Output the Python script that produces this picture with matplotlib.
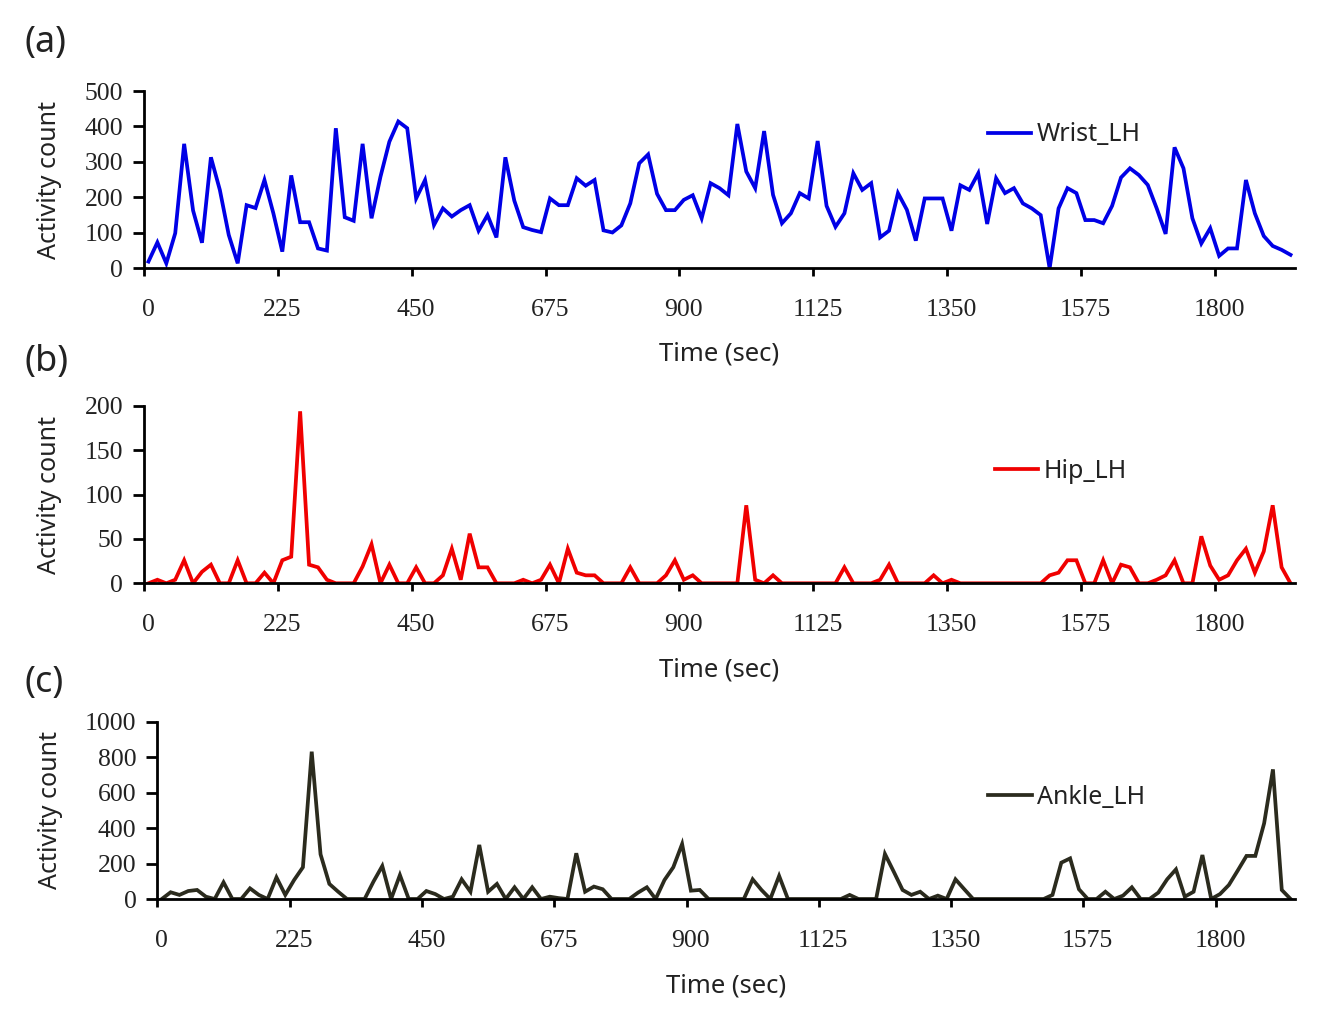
import matplotlib
matplotlib.use("Agg")
import matplotlib.pyplot as plt
import numpy as np

# ---------------- data (activity counts every 15 s) ----------------
step_sec = 15
wrist_lh = [19, 73, 14, 99, 351, 163, 72, 313, 221, 94, 14, 178, 170, 249, 155, 47, 262, 130, 130, 56,
            50, 395, 144, 134, 351, 141, 258, 357, 414, 395, 197, 249, 122, 169, 146, 164, 178, 106, 150, 87,
            313, 191, 116, 108, 102, 197, 178, 178, 254, 233, 249, 107, 101, 121, 183, 296, 321, 210, 164, 164,
            193, 206, 141, 240, 226, 206, 407, 273, 226, 387, 207, 127, 155, 212, 197, 359, 176, 117, 155, 268,
            221, 240, 87, 106, 212, 165, 78, 197, 197, 197, 106, 234, 221, 268, 125, 254, 212, 226, 183, 169,
            150, 0, 169, 226, 212, 136, 136, 127, 176, 256, 282, 263, 235, 169, 97, 341, 282, 141, 70, 113,
            35, 56, 56, 249, 155, 91, 63, 52, 38]
hip_lh = [0, 4, 0, 4, 26, 0, 13, 21, 0, 0, 26, 0, 0, 12, 0, 26, 30, 194, 21, 18,
          4, 0, 0, 0, 19, 44, 0, 21, 0, 0, 18, 0, 0, 9, 39, 4, 56, 18, 18, 0,
          0, 0, 4, 0, 4, 21, 0, 39, 12, 9, 9, 0, 0, 0, 18, 0, 0, 0, 9, 26,
          4, 9, 0, 0, 0, 0, 0, 88, 4, 0, 9, 0, 0, 0, 0, 0, 0, 0, 18, 0,
          0, 0, 4, 21, 0, 0, 0, 0, 9, 0, 4, 0, 0, 0, 0, 0, 0, 0, 0, 0,
          0, 9, 12, 26, 26, 0, 0, 26, 0, 21, 18, 0, 0, 4, 9, 26, 0, 0, 53, 20,
          4, 9, 26, 39, 12, 36, 88, 18, 0]
ankle_lh = [0, 38, 23, 45, 51, 13, 0, 94, 0, 0, 60, 23, 0, 122, 23, 107, 179, 831, 252, 85,
            41, 0, 0, 0, 98, 186, 0, 135, 0, 0, 45, 28, 0, 13, 111, 41, 305, 41, 85, 0,
            66, 0, 66, 0, 13, 5, 0, 258, 41, 70, 55, 0, 0, 0, 36, 66, 0, 107, 179, 310,
            47, 51, 0, 0, 0, 0, 0, 111, 51, 0, 130, 0, 0, 0, 0, 0, 0, 0, 23, 0,
            0, 0, 254, 154, 51, 23, 41, 0, 19, 0, 111, 55, 0, 0, 0, 0, 0, 0, 0, 0,
            0, 23, 205, 229, 55, 0, 0, 41, 0, 19, 66, 0, 0, 36, 111, 167, 13, 41, 248, 0,
            28, 79, 160, 243, 243, 427, 731, 51, 0]

series_names = ["Wrist_LH", "Hip_LH", "Ankle_LH"]
panel_tags = ["(a)", "(b)", "(c)"]
series_colors = ["#0000E6", "#F00000", "#2B2B1E"]
y_maxes = [500, 200, 1000]
y_steps = [100, 50, 200]
x_tick_labels = [0, 225, 450, 675, 900, 1125, 1350, 1575, 1800]

# ---------------- figure ----------------
W, H = 1344, 1026
fig = plt.figure(figsize=(W / 100, H / 100), dpi=100)
fig.patch.set_facecolor("white")

sans = ["Noto Sans", "DejaVu Sans"]
serif = ["Liberation Serif", "DejaVu Serif"]
txt_col = "#222222"

# axes rectangles in pixel coords: (left, top, right, bottom)
rects = [(144, 91, 1295, 268.3), (144, 406, 1295, 583.3), (157.4, 721.7, 1295, 899)]
legend_anchor = [(0.733, 0.752), (0.739, 0.633), (0.730, 0.575)]
ylabel_x_px = 50
xlabel_y_px = [354, 670, 986]
tag_y_px = [43, 362, 683]

all_data = [wrist_lh, hip_lh, ankle_lh]

for k in range(3):
    l, t, r, b = rects[k]
    ax = fig.add_axes([l / W, 1 - b / H, (r - l) / W, (b - t) / H])
    vals = np.array(all_data[k], dtype=float)
    x = np.arange(len(vals)) * step_sec
    ax.plot(x, vals, color=series_colors[k], lw=2.7, label=series_names[k],
            solid_joinstyle="miter")
    half = step_sec / 2
    ax.set_xlim(-half, x[-1] + half)
    ax.set_ylim(0, y_maxes[k])

    for side in ["top", "right"]:
        ax.spines[side].set_visible(False)
    for side in ["left", "bottom"]:
        ax.spines[side].set_linewidth(2.0)
        ax.spines[side].set_color("black")

    # tick marks at category boundaries, labels at category centres
    ax.set_xticks([v - half for v in x_tick_labels])
    ax.set_xticklabels([])
    ax.set_xticks(x_tick_labels, minor=True)
    ax.set_xticklabels([str(v) for v in x_tick_labels], minor=True,
                       fontfamily=serif, fontsize=18.5, color=txt_col)
    ax.tick_params(axis="x", which="major", direction="out", length=6, width=2, color="black")
    ax.tick_params(axis="x", which="minor", length=0, pad=22)

    yt = np.arange(0, y_maxes[k] + 1, y_steps[k])
    ax.set_yticks(yt)
    ax.set_yticklabels([str(int(v)) for v in yt], fontfamily=serif, fontsize=18.5, color=txt_col)
    ax.tick_params(axis="y", direction="out", length=8, width=2, color="black", pad=7)

    ax.set_ylabel("Activity count", fontfamily=sans, fontsize=18, color=txt_col)
    ax.yaxis.set_label_coords((ylabel_x_px - l) / (r - l), 0.5)
    ax.yaxis.label.set_va("center")
    ax.set_xlabel("Time (sec)", fontfamily=sans, fontsize=18.5, color=txt_col)
    ax.xaxis.set_label_coords(0.5, (b - xlabel_y_px[k]) / (b - t))
    ax.xaxis.label.set_va("center")

    leg = ax.legend(loc="center left", bbox_to_anchor=legend_anchor[k], frameon=False,
                    borderpad=0, borderaxespad=0, handlelength=1.75, handletextpad=0.2,
                    prop={"family": sans, "size": 18})
    for txt in leg.get_texts():
        txt.set_color(txt_col)

    fig.text(24 / W, 1 - tag_y_px[k] / H, panel_tags[k], fontfamily=sans, fontsize=26,
             color=txt_col, ha="left", va="center")

fig.savefig("out.png", dpi=100, facecolor="white")
